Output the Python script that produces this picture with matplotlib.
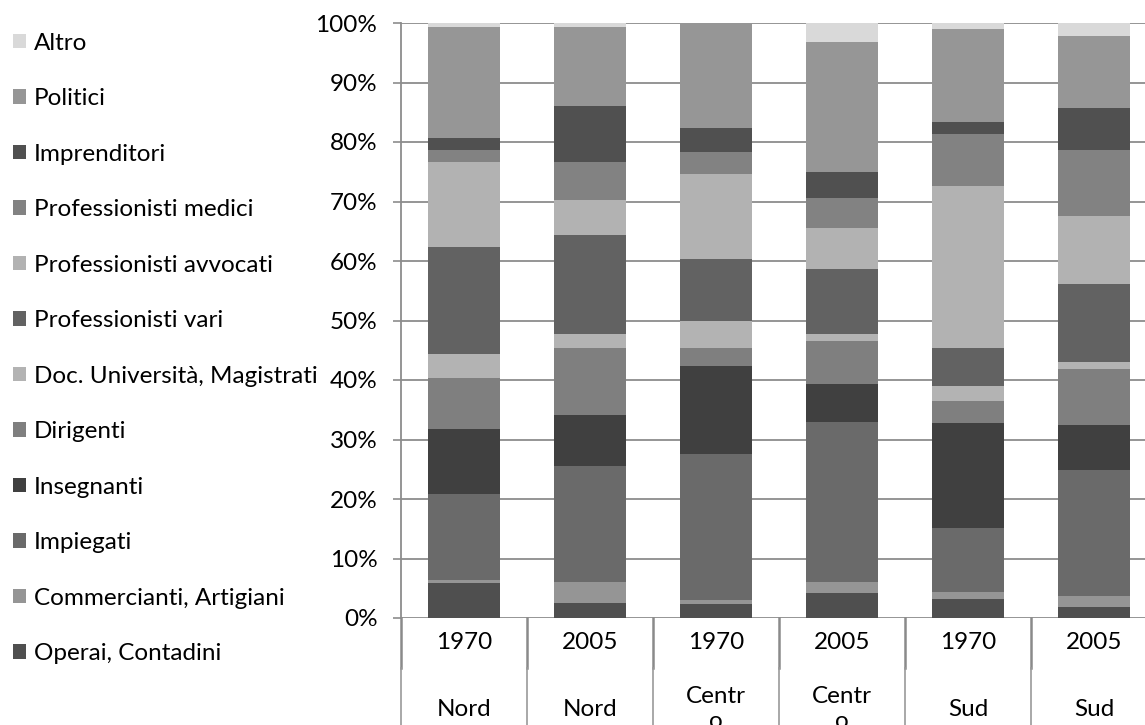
import textwrap
import matplotlib
matplotlib.use("Agg")
import matplotlib.pyplot as plt
import matplotlib.transforms as mtransforms
from matplotlib.patches import Patch
import numpy as np

plt.rcParams['font.family'] = ['Lato', 'DejaVu Sans']

years = ['1970', '2005', '1970', '2005', '1970', '2005']
regions = ['Nord', 'Nord', 'Centro', 'Centro', 'Sud', 'Sud']

# bottom -> top
operai = [5.9, 2.5, 2.3, 4.2, 3.2, 1.9]
commercianti = [0.5, 3.5, 0.7, 1.8, 1.1, 1.8]
impiegati = [14.4, 19.6, 24.6, 27.0, 10.8, 21.2]
insegnanti = [11.0, 8.6, 14.7, 6.3, 17.7, 7.6]
dirigenti = [8.5, 11.1, 3.0, 7.3, 3.7, 9.4]
docenti = [4.1, 2.4, 4.7, 1.1, 2.5, 1.1]
prof_vari = [18.0, 16.7, 10.3, 11.0, 6.3, 13.1]
prof_avvocati = [14.2, 5.8, 14.3, 6.8, 27.3, 11.5]
prof_medici = [2.1, 6.4, 3.8, 5.1, 8.8, 11.1]
imprenditori = [1.9, 9.4, 4.0, 4.3, 1.9, 7.0]
politici = [18.8, 13.4, 17.6, 21.9, 15.7, 12.1]
altro = [0.6, 0.6, 0.0, 3.2, 1.0, 2.2]

series = [
    ('Operai, Contadini', operai, '#4f4f4f'),
    ('Commercianti, Artigiani', commercianti, '#959595'),
    ('Impiegati', impiegati, '#6a6a6a'),
    ('Insegnanti', insegnanti, '#404040'),
    ('Dirigenti', dirigenti, '#7f7f7f'),
    ('Doc. Università, Magistrati', docenti, '#b3b3b3'),
    ('Professionisti vari', prof_vari, '#626262'),
    ('Professionisti avvocati', prof_avvocati, '#b2b2b2'),
    ('Professionisti medici', prof_medici, '#828282'),
    ('Imprenditori', imprenditori, '#505050'),
    ('Politici', politici, '#969696'),
    ('Altro', altro, '#d9d9d9'),
]

FS = 17.5
W, H = 1145, 725
fig = plt.figure(figsize=(W / 100, H / 100), dpi=100)
ax = fig.add_axes([401 / W, 107 / H, 756 / W, 595 / H])

x = np.arange(len(years))
bottom = np.zeros(len(years))
for name, vals, col in series:
    ax.bar(x, vals, bottom=bottom, width=0.565, color=col, zorder=3)
    bottom += np.array(vals)

grid_col = '#8c8c8c'
ax.set_xlim(-0.5, 5.5)
ax.set_ylim(0, 100)
ax.set_yticks(np.arange(0, 101, 10))
ax.set_yticklabels([f'{v}%' for v in range(0, 101, 10)], fontsize=FS)
ax.yaxis.grid(True, color=grid_col, linewidth=1.3, zorder=0)
ax.tick_params(axis='y', length=6, width=1.2, color=grid_col, pad=11)
for s in ['top', 'right', 'bottom']:
    ax.spines[s].set_visible(False)
ax.spines['left'].set_color(grid_col)
ax.spines['left'].set_linewidth(1.3)

ax.set_xticks([])
trans = mtransforms.blended_transform_factory(ax.transData, ax.transAxes)
for i in range(len(years)):
    ax.text(x[i], -0.042, years[i], transform=trans, ha='center', va='center', fontsize=FS)
    reg = '\n'.join(textwrap.wrap(regions[i], 5))
    ax.text(x[i], -0.153, reg, transform=trans, ha='center', va='center', fontsize=FS,
            linespacing=1.2)

# category separators
for xb in np.arange(-0.5, 6.0, 1.0):
    ax.plot([xb, xb], [0, -0.084], transform=trans, color='#8a8a8a', lw=1.8, clip_on=False)
    ax.plot([xb, xb], [-0.084, -0.2], transform=trans, color='#9a9a9a', lw=1.2, clip_on=False)

handles = [Patch(facecolor=col, edgecolor='none', label=name) for name, vals, col in series[::-1]]
fig.legend(handles=handles, loc='upper left', bbox_to_anchor=(0.0114, 0.955), frameon=False,
           fontsize=FS, handlelength=0.55, handleheight=0.55, handletextpad=0.3,
           labelspacing=1.42, borderpad=0, borderaxespad=0)

fig.savefig('out.png', dpi=100)
